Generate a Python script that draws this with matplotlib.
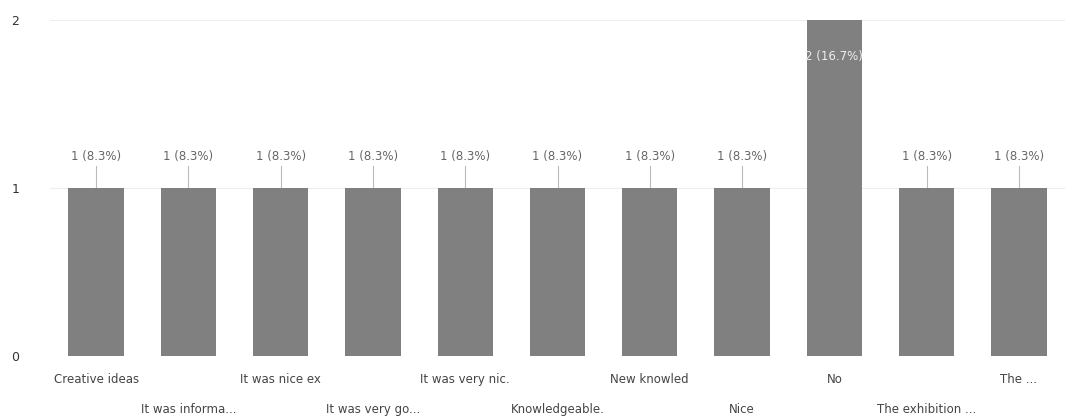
import matplotlib.pyplot as plt

# Datos
categorias = ["Creative ideas", "It was informa...", "It was nice ex", "It was very go...",
              "It was very nic.", "Knowledgeable.", "New knowled", "Nice", "No",
              "The exhibition ...", "The ..."]
valores = [1, 1, 1, 1, 1, 1, 1, 1, 2, 1, 1]
etiquetas = ["1 (8.3%)"] * 8 + ["2 (16.7%)"] + ["1 (8.3%)"] * 2

fig = plt.figure(figsize=(10.65, 4.18), dpi=100)
ax = fig.add_axes([50 / 1065, 62 / 418, 1015 / 1065, 336 / 418])

x = list(range(len(categorias)))
ax.bar(x, valores, width=0.6, color="#808080", zorder=2)

for i, (v, lab) in enumerate(zip(valores, etiquetas)):
    if v == 1:
        ax.plot([i, i], [v, v + 0.13], color="#bbbbbb", lw=0.8, zorder=1)
        ax.text(i, v + 0.15, lab, ha="center", va="bottom", fontsize=8.5, color="#666666")
    else:
        ax.text(i, v - 0.22, lab, ha="center", va="center", fontsize=8.5, color="#eeeeee")

ax.set_xlim(-0.5, len(categorias) - 0.5)
ax.set_ylim(0, 2)
ax.set_yticks([0, 1, 2])
ax.set_yticklabels(["0", "1", "2"], fontsize=9, color="#333333")
ax.tick_params(axis="y", length=0, pad=22)
ax.yaxis.grid(True, color="#eeeeee", lw=0.8, zorder=0)
ax.set_xticks(x)
ax.set_xticklabels([])
ax.tick_params(axis="x", length=0)
for i, c in enumerate(categorias):
    off = -0.07 if i % 2 == 0 else -0.16
    ax.text(i, off, c, ha="center", va="center", fontsize=8.5, color="#444444",
            transform=ax.get_xaxis_transform())
for s in ax.spines.values():
    s.set_visible(False)

plt.savefig("out.png")
